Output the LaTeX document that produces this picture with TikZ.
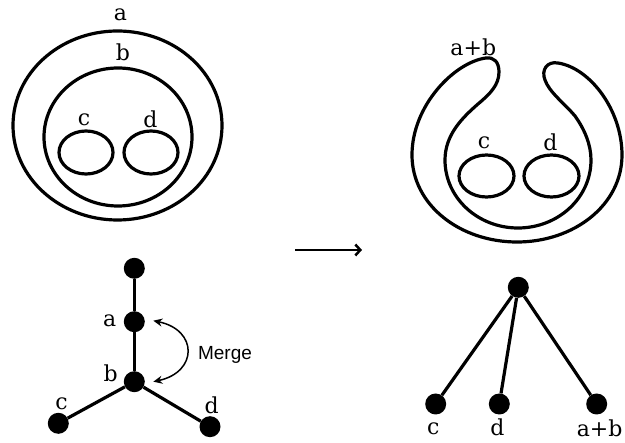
\documentclass[tikz,border=0pt]{standalone}
\usepackage{fontspec}
\setmainfont{DejaVu Serif}
\newfontfamily\mergefont{Liberation Sans}
\usetikzlibrary{arrows.meta}
\begin{document}
\begin{tikzpicture}[x=1pt,y=-1pt,
  ring/.style={line width=3.2pt},
  lbl/.style={inner sep=0pt,font=\fontsize{22}{26}\selectfont},
  dot/.style={circle,fill=black,inner sep=0pt,minimum size=21pt},
  edge/.style={line width=3.2pt}]
\useasboundingbox (0,0) rectangle (625,443);
% ---- left nested sets
\draw[ring] (117.5,125.5) ellipse [x radius=104.5, y radius=94.5];
\draw[ring] (118,137) ellipse [x radius=74, y radius=69];
\draw[ring] (86,152.5) ellipse [x radius=27, y radius=21.5];
\draw[ring] (151,152.5) ellipse [x radius=27, y radius=21.5];
\node[lbl] (la) at (120.5,15) {a};
\node[lbl] (lb) at (123,52) {b};
\node[lbl] (lc) at (84,120) {c};
\node[lbl] (ld) at (150.5,119.5) {d};
% ---- right merged sets
\draw[ring] (499,72)
  .. controls (499,62) and (494,57) .. (486,58)
  .. controls (455,62) and (412,105) .. (412,155)
  .. controls (412,205) and (460,242) .. (517,242)
  .. controls (574,242) and (622,205) .. (622,155)
  .. controls (622,110) and (590,68) .. (558,63)
  .. controls (547,61) and (541,70) .. (545,80)
  .. controls (549,92) and (565,104) .. (575,116)
  .. controls (585,130) and (591,145) .. (591,160)
  .. controls (591,198) and (558,228) .. (518,228)
  .. controls (478,228) and (445,198) .. (445,160)
  .. controls (445,135) and (462,118) .. (478,104)
  .. controls (490,94) and (499,85) .. (499,72) -- cycle;
\draw[ring] (486.5,176) ellipse [x radius=27.5, y radius=21];
\draw[ring] (551.5,176) ellipse [x radius=27.5, y radius=21];
\node[lbl] (rab) at (473.3,47) {a+b};
\node[lbl] (rc) at (484,143) {c};
\node[lbl] (rd) at (550.5,142) {d};
% ---- middle arrow
\coordinate (m1) at (295,250);
\coordinate (m2) at (362,250);
\draw[line width=2.5pt,-{Straight Barb[length=5pt,width=11pt,line width=2.5pt]}] (m1) -- (m2);
% ---- left tree
\node[dot] (t0) at (134.3,268.3) {};
\node[dot] (ta) at (134.3,321.7) {};
\node[dot] (tb) at (134.3,381.7) {};
\node[dot] (tc) at (58.3,423.3) {};
\node[dot] (td) at (210,426.7) {};
\draw[edge] (t0) -- (ta);
\draw[edge] (ta) -- (tb);
\draw[edge] (tb) -- (tc);
\draw[edge] (tb) -- (td);
\node[lbl] (tla) at (109.7,321) {a};
\node[lbl] (tlb) at (110.7,373) {b};
\node[lbl] (tlc) at (61.5,403.7) {c};
\node[lbl] (tld) at (211.7,405) {d};
\coordinate (ga) at (153.3,320.7);
\coordinate (gb) at (153.3,381.7);
\draw[line width=1.5pt,{Stealth[length=9pt,width=8pt]}-{Stealth[length=9pt,width=8pt]}]
  (ga) .. controls (198,330) and (198,372) .. (gb);
\node[inner sep=0pt,anchor=base,font=\mergefont\fontsize{19}{22}\selectfont] (merge) at (225,360) {Merge};
% ---- right tree
\node[dot] (s0) at (518.3,287.3) {};
\node[dot] (sc) at (435.7,404) {};
\node[dot] (sd) at (499.3,404) {};
\node[dot] (sab) at (596.7,404) {};
\draw[edge] (s0) -- (sc);
\draw[edge] (s0) -- (sd);
\draw[edge] (s0) -- (sab);
\node[lbl] (slc) at (433.3,428.3) {c};
\node[lbl] (sld) at (497.5,427) {d};
\node[lbl] (slab) at (599.7,428) {a+b};
\end{tikzpicture}
\end{document}
